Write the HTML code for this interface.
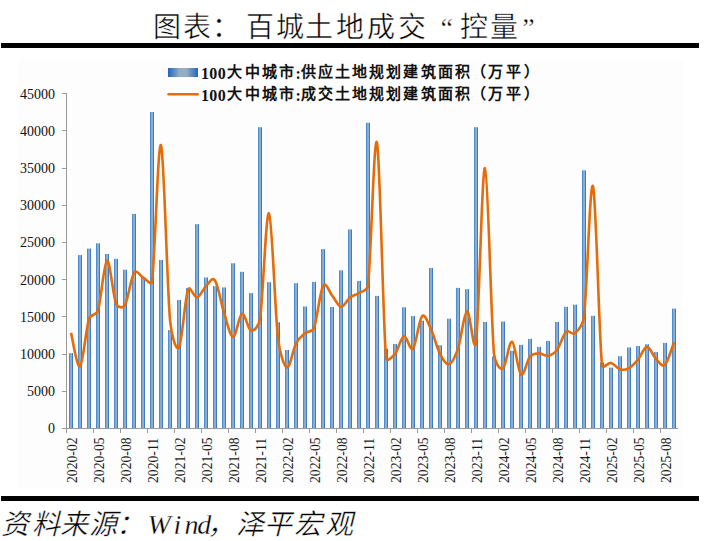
<!DOCTYPE html>
<html lang="zh-CN"><head><meta charset="utf-8">
<style>
html,body{margin:0;padding:0;background:#fff;width:705px;height:541px;overflow:hidden}
svg{display:block}
.yl{font-family:"Liberation Serif",serif;font-size:14px;fill:#111}
.xl{font-family:"Liberation Serif",serif;font-size:13.7px;fill:#1a1a1a}
.lg{font-family:"Liberation Serif",serif;font-size:16px;font-weight:bold;fill:#111}
.title{font-family:"Liberation Serif",serif;font-size:30px;fill:#2a2a2a;font-weight:300}
.src{font-family:"Liberation Serif",serif;font-size:28px;font-style:italic;fill:#1a1a1a}
</style></head><body>
<svg width="705" height="541" viewBox="0 0 705 541">
<defs>
<linearGradient id="bg" x1="0" y1="0" x2="1" y2="0">
<stop offset="0" stop-color="#4a8ed6"/><stop offset="0.25" stop-color="#4a8ed6"/><stop offset="0.25" stop-color="#84a8cc"/><stop offset="0.5" stop-color="#8eaccb"/><stop offset="0.75" stop-color="#95b0c8"/><stop offset="0.75" stop-color="#3b7ac4"/><stop offset="1" stop-color="#3b7ac4"/>
</linearGradient>
<linearGradient id="lgb" x1="0" y1="0" x2="1" y2="0">
<stop offset="0" stop-color="#2264c0"/><stop offset="0.38" stop-color="#93adc3"/><stop offset="0.62" stop-color="#93adc3"/><stop offset="1" stop-color="#2264c0"/>
</linearGradient>
</defs>
<text x="153.3" y="37" style="font-family:'Liberation Serif',serif;font-size:28px;stroke:#fff;stroke-width:0.45px;fill:#000">图</text>
<text x="182.5" y="37" style="font-family:'Liberation Serif',serif;font-size:28px;stroke:#fff;stroke-width:0.45px;fill:#000">表</text>
<text x="212.2" y="37" style="font-family:'Liberation Serif',serif;font-size:28px;stroke:#fff;stroke-width:0.45px;fill:#000">：</text>
<text x="245.8" y="37" style="font-family:'Liberation Serif',serif;font-size:28px;stroke:#fff;stroke-width:0.45px;fill:#000">百</text>
<text x="276.3" y="37" style="font-family:'Liberation Serif',serif;font-size:28px;stroke:#fff;stroke-width:0.45px;fill:#000">城</text>
<text x="305.3" y="37" style="font-family:'Liberation Serif',serif;font-size:28px;stroke:#fff;stroke-width:0.45px;fill:#000">土</text>
<text x="336.2" y="37" style="font-family:'Liberation Serif',serif;font-size:28px;stroke:#fff;stroke-width:0.45px;fill:#000">地</text>
<text x="366.7" y="37" style="font-family:'Liberation Serif',serif;font-size:28px;stroke:#fff;stroke-width:0.45px;fill:#000">成</text>
<text x="397.8" y="37" style="font-family:'Liberation Serif',serif;font-size:28px;stroke:#fff;stroke-width:0.45px;fill:#000">交</text>
<text x="440.4" y="37" style="font-family:'Liberation Serif',serif;font-size:28px;stroke:#fff;stroke-width:0.45px;fill:#000">“</text>
<text x="460.0" y="37" style="font-family:'Liberation Serif',serif;font-size:28px;stroke:#fff;stroke-width:0.45px;fill:#000">控</text>
<text x="489.8" y="37" style="font-family:'Liberation Serif',serif;font-size:28px;stroke:#fff;stroke-width:0.45px;fill:#000">量</text>
<text x="522.3" y="37" style="font-family:'Liberation Serif',serif;font-size:28px;stroke:#fff;stroke-width:0.45px;fill:#000">”</text>
<rect x="1" y="43" width="698" height="5" fill="#000"/>
<rect x="18" y="60" width="665" height="428" fill="#fdfdfd"/>
<rect x="168" y="68" width="30" height="9" fill="url(#lgb)"/>
<text x="200.9" y="78.5" style="font-family:'Liberation Serif',serif;font-size:16px;font-weight:700;fill:#111">1</text>
<text x="209.3" y="78.5" style="font-family:'Liberation Serif',serif;font-size:16px;font-weight:700;fill:#111">0</text>
<text x="217.8" y="78.5" style="font-family:'Liberation Serif',serif;font-size:16px;font-weight:700;fill:#111">0</text>
<text x="227.2" y="77.2" style="font-family:'Liberation Serif',serif;font-size:15px;font-weight:700;fill:#111">大</text>
<text x="245.1" y="77.2" style="font-family:'Liberation Serif',serif;font-size:15px;font-weight:700;fill:#111">中</text>
<text x="262.0" y="77.2" style="font-family:'Liberation Serif',serif;font-size:15px;font-weight:700;fill:#111">城</text>
<text x="279.0" y="77.2" style="font-family:'Liberation Serif',serif;font-size:15px;font-weight:700;fill:#111">市</text>
<text x="295.4" y="78.5" style="font-family:'Liberation Serif',serif;font-size:16px;font-weight:700;fill:#111">:</text>
<text x="300.5" y="77.2" style="font-family:'Liberation Serif',serif;font-size:15px;font-weight:700;fill:#111">供</text>
<text x="318.2" y="77.2" style="font-family:'Liberation Serif',serif;font-size:15px;font-weight:700;fill:#111">应</text>
<text x="334.7" y="77.2" style="font-family:'Liberation Serif',serif;font-size:15px;font-weight:700;fill:#111">土</text>
<text x="352.3" y="77.2" style="font-family:'Liberation Serif',serif;font-size:15px;font-weight:700;fill:#111">地</text>
<text x="369.1" y="77.2" style="font-family:'Liberation Serif',serif;font-size:15px;font-weight:700;fill:#111">规</text>
<text x="386.0" y="77.2" style="font-family:'Liberation Serif',serif;font-size:15px;font-weight:700;fill:#111">划</text>
<text x="403.2" y="77.2" style="font-family:'Liberation Serif',serif;font-size:15px;font-weight:700;fill:#111">建</text>
<text x="420.9" y="77.2" style="font-family:'Liberation Serif',serif;font-size:15px;font-weight:700;fill:#111">筑</text>
<text x="437.7" y="77.2" style="font-family:'Liberation Serif',serif;font-size:15px;font-weight:700;fill:#111">面</text>
<text x="454.5" y="77.2" style="font-family:'Liberation Serif',serif;font-size:15px;font-weight:700;fill:#111">积</text>
<text x="470.9" y="77.2" style="font-family:'Liberation Serif',serif;font-size:15px;font-weight:700;fill:#111">（</text>
<text x="487.8" y="77.2" style="font-family:'Liberation Serif',serif;font-size:15px;font-weight:700;fill:#111">万</text>
<text x="505.9" y="77.2" style="font-family:'Liberation Serif',serif;font-size:15px;font-weight:700;fill:#111">平</text>
<text x="523.7" y="77.2" style="font-family:'Liberation Serif',serif;font-size:15px;font-weight:700;fill:#111">）</text>
<line x1="168.6" y1="94.3" x2="197.6" y2="94.3" stroke="#e46c0a" stroke-width="2.6" stroke-linecap="round"/>
<text x="200.9" y="100.5" style="font-family:'Liberation Serif',serif;font-size:16px;font-weight:700;fill:#111">1</text>
<text x="209.3" y="100.5" style="font-family:'Liberation Serif',serif;font-size:16px;font-weight:700;fill:#111">0</text>
<text x="217.8" y="100.5" style="font-family:'Liberation Serif',serif;font-size:16px;font-weight:700;fill:#111">0</text>
<text x="227.2" y="99.2" style="font-family:'Liberation Serif',serif;font-size:15px;font-weight:700;fill:#111">大</text>
<text x="245.1" y="99.2" style="font-family:'Liberation Serif',serif;font-size:15px;font-weight:700;fill:#111">中</text>
<text x="262.0" y="99.2" style="font-family:'Liberation Serif',serif;font-size:15px;font-weight:700;fill:#111">城</text>
<text x="279.0" y="99.2" style="font-family:'Liberation Serif',serif;font-size:15px;font-weight:700;fill:#111">市</text>
<text x="295.4" y="100.5" style="font-family:'Liberation Serif',serif;font-size:16px;font-weight:700;fill:#111">:</text>
<text x="300.5" y="99.2" style="font-family:'Liberation Serif',serif;font-size:15px;font-weight:700;fill:#111">成</text>
<text x="318.2" y="99.2" style="font-family:'Liberation Serif',serif;font-size:15px;font-weight:700;fill:#111">交</text>
<text x="334.7" y="99.2" style="font-family:'Liberation Serif',serif;font-size:15px;font-weight:700;fill:#111">土</text>
<text x="352.3" y="99.2" style="font-family:'Liberation Serif',serif;font-size:15px;font-weight:700;fill:#111">地</text>
<text x="369.1" y="99.2" style="font-family:'Liberation Serif',serif;font-size:15px;font-weight:700;fill:#111">规</text>
<text x="386.0" y="99.2" style="font-family:'Liberation Serif',serif;font-size:15px;font-weight:700;fill:#111">划</text>
<text x="403.2" y="99.2" style="font-family:'Liberation Serif',serif;font-size:15px;font-weight:700;fill:#111">建</text>
<text x="420.9" y="99.2" style="font-family:'Liberation Serif',serif;font-size:15px;font-weight:700;fill:#111">筑</text>
<text x="437.7" y="99.2" style="font-family:'Liberation Serif',serif;font-size:15px;font-weight:700;fill:#111">面</text>
<text x="454.5" y="99.2" style="font-family:'Liberation Serif',serif;font-size:15px;font-weight:700;fill:#111">积</text>
<text x="470.9" y="99.2" style="font-family:'Liberation Serif',serif;font-size:15px;font-weight:700;fill:#111">（</text>
<text x="487.8" y="99.2" style="font-family:'Liberation Serif',serif;font-size:15px;font-weight:700;fill:#111">万</text>
<text x="505.9" y="99.2" style="font-family:'Liberation Serif',serif;font-size:15px;font-weight:700;fill:#111">平</text>
<text x="523.7" y="99.2" style="font-family:'Liberation Serif',serif;font-size:15px;font-weight:700;fill:#111">）</text>
<rect x="69" y="353.10" width="4.0" height="75.40" fill="url(#bg)"/>
<rect x="78" y="255.10" width="4.0" height="173.40" fill="url(#bg)"/>
<rect x="87" y="248.60" width="4.0" height="179.90" fill="url(#bg)"/>
<rect x="96" y="243.30" width="4.0" height="185.20" fill="url(#bg)"/>
<rect x="105" y="254.00" width="4.0" height="174.50" fill="url(#bg)"/>
<rect x="114" y="258.79" width="4.0" height="169.71" fill="url(#bg)"/>
<rect x="123" y="269.70" width="4.0" height="158.80" fill="url(#bg)"/>
<rect x="132" y="213.90" width="4.0" height="214.60" fill="url(#bg)"/>
<rect x="141" y="277.09" width="4.0" height="151.41" fill="url(#bg)"/>
<rect x="150" y="111.99" width="4.0" height="316.51" fill="url(#bg)"/>
<rect x="159" y="259.95" width="4.0" height="168.55" fill="url(#bg)"/>
<rect x="168" y="330.10" width="4.0" height="98.40" fill="url(#bg)"/>
<rect x="177" y="300.00" width="4.0" height="128.50" fill="url(#bg)"/>
<rect x="186" y="288.11" width="4.0" height="140.39" fill="url(#bg)"/>
<rect x="195" y="224.20" width="4.0" height="204.30" fill="url(#bg)"/>
<rect x="204" y="277.50" width="4.0" height="151.00" fill="url(#bg)"/>
<rect x="213" y="286.10" width="4.0" height="142.40" fill="url(#bg)"/>
<rect x="222" y="287.40" width="4.0" height="141.10" fill="url(#bg)"/>
<rect x="231" y="263.29" width="4.0" height="165.21" fill="url(#bg)"/>
<rect x="240" y="271.80" width="4.0" height="156.70" fill="url(#bg)"/>
<rect x="249" y="293.10" width="4.0" height="135.40" fill="url(#bg)"/>
<rect x="258" y="127.20" width="4.0" height="301.30" fill="url(#bg)"/>
<rect x="267" y="282.19" width="4.0" height="146.31" fill="url(#bg)"/>
<rect x="276" y="322.30" width="4.0" height="106.20" fill="url(#bg)"/>
<rect x="285" y="350.00" width="4.0" height="78.50" fill="url(#bg)"/>
<rect x="294" y="283.20" width="4.0" height="145.30" fill="url(#bg)"/>
<rect x="303" y="306.50" width="4.0" height="122.00" fill="url(#bg)"/>
<rect x="312" y="281.90" width="4.0" height="146.60" fill="url(#bg)"/>
<rect x="321" y="249.10" width="4.0" height="179.40" fill="url(#bg)"/>
<rect x="330" y="307.05" width="4.0" height="121.45" fill="url(#bg)"/>
<rect x="339" y="270.30" width="4.0" height="158.20" fill="url(#bg)"/>
<rect x="348" y="229.40" width="4.0" height="199.10" fill="url(#bg)"/>
<rect x="357" y="280.90" width="4.0" height="147.60" fill="url(#bg)"/>
<rect x="366" y="122.80" width="4.0" height="305.70" fill="url(#bg)"/>
<rect x="375" y="295.90" width="4.0" height="132.60" fill="url(#bg)"/>
<rect x="384" y="348.70" width="4.0" height="79.80" fill="url(#bg)"/>
<rect x="393" y="344.00" width="4.0" height="84.50" fill="url(#bg)"/>
<rect x="402" y="307.30" width="4.0" height="121.20" fill="url(#bg)"/>
<rect x="411" y="316.10" width="4.0" height="112.40" fill="url(#bg)"/>
<rect x="420" y="320.70" width="4.0" height="107.80" fill="url(#bg)"/>
<rect x="429" y="268.00" width="4.0" height="160.50" fill="url(#bg)"/>
<rect x="438" y="345.30" width="4.0" height="83.20" fill="url(#bg)"/>
<rect x="447" y="318.70" width="4.0" height="109.80" fill="url(#bg)"/>
<rect x="456" y="287.91" width="4.0" height="140.59" fill="url(#bg)"/>
<rect x="465" y="289.20" width="4.0" height="139.30" fill="url(#bg)"/>
<rect x="474" y="127.20" width="4.0" height="301.30" fill="url(#bg)"/>
<rect x="483" y="322.00" width="4.0" height="106.50" fill="url(#bg)"/>
<rect x="492" y="356.50" width="4.0" height="72.00" fill="url(#bg)"/>
<rect x="501" y="321.50" width="4.0" height="107.00" fill="url(#bg)"/>
<rect x="510" y="350.80" width="4.0" height="77.70" fill="url(#bg)"/>
<rect x="519" y="344.80" width="4.0" height="83.70" fill="url(#bg)"/>
<rect x="528" y="338.90" width="4.0" height="89.60" fill="url(#bg)"/>
<rect x="537" y="346.90" width="4.0" height="81.60" fill="url(#bg)"/>
<rect x="546" y="340.90" width="4.0" height="87.60" fill="url(#bg)"/>
<rect x="555" y="322.00" width="4.0" height="106.50" fill="url(#bg)"/>
<rect x="564" y="306.80" width="4.0" height="121.70" fill="url(#bg)"/>
<rect x="573" y="304.70" width="4.0" height="123.80" fill="url(#bg)"/>
<rect x="582" y="170.30" width="4.0" height="258.20" fill="url(#bg)"/>
<rect x="591" y="315.80" width="4.0" height="112.70" fill="url(#bg)"/>
<rect x="600" y="362.40" width="4.0" height="66.10" fill="url(#bg)"/>
<rect x="609" y="367.60" width="4.0" height="60.90" fill="url(#bg)"/>
<rect x="618" y="356.20" width="4.0" height="72.30" fill="url(#bg)"/>
<rect x="627" y="347.40" width="4.0" height="81.10" fill="url(#bg)"/>
<rect x="636" y="346.10" width="4.0" height="82.40" fill="url(#bg)"/>
<rect x="645" y="344.30" width="4.0" height="84.20" fill="url(#bg)"/>
<rect x="654" y="352.10" width="4.0" height="76.40" fill="url(#bg)"/>
<rect x="663" y="343.00" width="4.0" height="85.50" fill="url(#bg)"/>
<rect x="672" y="308.60" width="4.0" height="119.90" fill="url(#bg)"/>
<line x1="66.5" y1="93.5" x2="66.5" y2="429" stroke="#9a9a9a" stroke-width="1"/>
<line x1="62" y1="428.5" x2="678" y2="428.5" stroke="#9a9a9a" stroke-width="1"/>
<line x1="62" y1="428.5" x2="67" y2="428.5" stroke="#9a9a9a" stroke-width="1"/>
<text x="55" y="433.2" text-anchor="end" class="yl">0</text>
<line x1="62" y1="391.5" x2="67" y2="391.5" stroke="#9a9a9a" stroke-width="1"/>
<text x="55" y="396.0" text-anchor="end" class="yl">5000</text>
<line x1="62" y1="354.5" x2="67" y2="354.5" stroke="#9a9a9a" stroke-width="1"/>
<text x="55" y="358.8" text-anchor="end" class="yl">10000</text>
<line x1="62" y1="316.5" x2="67" y2="316.5" stroke="#9a9a9a" stroke-width="1"/>
<text x="55" y="321.7" text-anchor="end" class="yl">15000</text>
<line x1="62" y1="279.5" x2="67" y2="279.5" stroke="#9a9a9a" stroke-width="1"/>
<text x="55" y="284.5" text-anchor="end" class="yl">20000</text>
<line x1="62" y1="242.5" x2="67" y2="242.5" stroke="#9a9a9a" stroke-width="1"/>
<text x="55" y="247.3" text-anchor="end" class="yl">25000</text>
<line x1="62" y1="205.5" x2="67" y2="205.5" stroke="#9a9a9a" stroke-width="1"/>
<text x="55" y="210.1" text-anchor="end" class="yl">30000</text>
<line x1="62" y1="168.5" x2="67" y2="168.5" stroke="#9a9a9a" stroke-width="1"/>
<text x="55" y="173.0" text-anchor="end" class="yl">35000</text>
<line x1="62" y1="130.5" x2="67" y2="130.5" stroke="#9a9a9a" stroke-width="1"/>
<text x="55" y="135.8" text-anchor="end" class="yl">40000</text>
<line x1="62" y1="93.5" x2="67" y2="93.5" stroke="#9a9a9a" stroke-width="1"/>
<text x="55" y="98.6" text-anchor="end" class="yl">45000</text>
<line x1="66.5" y1="428" x2="66.5" y2="433" stroke="#9a9a9a" stroke-width="1"/>
<text transform="translate(76.5,483) rotate(-90)" class="xl">2020-02</text>
<line x1="93.5" y1="428" x2="93.5" y2="433" stroke="#9a9a9a" stroke-width="1"/>
<text transform="translate(103.5,483) rotate(-90)" class="xl">2020-05</text>
<line x1="120.5" y1="428" x2="120.5" y2="433" stroke="#9a9a9a" stroke-width="1"/>
<text transform="translate(130.5,483) rotate(-90)" class="xl">2020-08</text>
<line x1="147.5" y1="428" x2="147.5" y2="433" stroke="#9a9a9a" stroke-width="1"/>
<text transform="translate(157.5,483) rotate(-90)" class="xl">2020-11</text>
<line x1="174.5" y1="428" x2="174.5" y2="433" stroke="#9a9a9a" stroke-width="1"/>
<text transform="translate(184.5,483) rotate(-90)" class="xl">2021-02</text>
<line x1="201.5" y1="428" x2="201.5" y2="433" stroke="#9a9a9a" stroke-width="1"/>
<text transform="translate(211.5,483) rotate(-90)" class="xl">2021-05</text>
<line x1="228.5" y1="428" x2="228.5" y2="433" stroke="#9a9a9a" stroke-width="1"/>
<text transform="translate(238.5,483) rotate(-90)" class="xl">2021-08</text>
<line x1="255.5" y1="428" x2="255.5" y2="433" stroke="#9a9a9a" stroke-width="1"/>
<text transform="translate(265.5,483) rotate(-90)" class="xl">2021-11</text>
<line x1="282.5" y1="428" x2="282.5" y2="433" stroke="#9a9a9a" stroke-width="1"/>
<text transform="translate(292.5,483) rotate(-90)" class="xl">2022-02</text>
<line x1="309.5" y1="428" x2="309.5" y2="433" stroke="#9a9a9a" stroke-width="1"/>
<text transform="translate(319.5,483) rotate(-90)" class="xl">2022-05</text>
<line x1="336.5" y1="428" x2="336.5" y2="433" stroke="#9a9a9a" stroke-width="1"/>
<text transform="translate(346.5,483) rotate(-90)" class="xl">2022-08</text>
<line x1="363.5" y1="428" x2="363.5" y2="433" stroke="#9a9a9a" stroke-width="1"/>
<text transform="translate(373.5,483) rotate(-90)" class="xl">2022-11</text>
<line x1="390.5" y1="428" x2="390.5" y2="433" stroke="#9a9a9a" stroke-width="1"/>
<text transform="translate(400.5,483) rotate(-90)" class="xl">2023-02</text>
<line x1="417.5" y1="428" x2="417.5" y2="433" stroke="#9a9a9a" stroke-width="1"/>
<text transform="translate(427.5,483) rotate(-90)" class="xl">2023-05</text>
<line x1="444.5" y1="428" x2="444.5" y2="433" stroke="#9a9a9a" stroke-width="1"/>
<text transform="translate(454.5,483) rotate(-90)" class="xl">2023-08</text>
<line x1="471.5" y1="428" x2="471.5" y2="433" stroke="#9a9a9a" stroke-width="1"/>
<text transform="translate(481.5,483) rotate(-90)" class="xl">2023-11</text>
<line x1="498.5" y1="428" x2="498.5" y2="433" stroke="#9a9a9a" stroke-width="1"/>
<text transform="translate(508.5,483) rotate(-90)" class="xl">2024-02</text>
<line x1="525.5" y1="428" x2="525.5" y2="433" stroke="#9a9a9a" stroke-width="1"/>
<text transform="translate(535.5,483) rotate(-90)" class="xl">2024-05</text>
<line x1="552.5" y1="428" x2="552.5" y2="433" stroke="#9a9a9a" stroke-width="1"/>
<text transform="translate(562.5,483) rotate(-90)" class="xl">2024-08</text>
<line x1="579.5" y1="428" x2="579.5" y2="433" stroke="#9a9a9a" stroke-width="1"/>
<text transform="translate(589.5,483) rotate(-90)" class="xl">2024-11</text>
<line x1="606.5" y1="428" x2="606.5" y2="433" stroke="#9a9a9a" stroke-width="1"/>
<text transform="translate(616.5,483) rotate(-90)" class="xl">2025-02</text>
<line x1="633.5" y1="428" x2="633.5" y2="433" stroke="#9a9a9a" stroke-width="1"/>
<text transform="translate(643.5,483) rotate(-90)" class="xl">2025-05</text>
<line x1="660.5" y1="428" x2="660.5" y2="433" stroke="#9a9a9a" stroke-width="1"/>
<text transform="translate(670.5,483) rotate(-90)" class="xl">2025-08</text>
<path d="M71.00,332.85 C72.50,338.43 77.00,368.61 80.00,366.30 C83.00,363.99 86.00,328.32 89.00,319.00 C90.91,313.08 96.16,316.35 98.00,310.40 C101.00,300.68 104.00,261.86 107.00,260.70 C110.00,259.53 113.00,296.02 116.00,303.40 C117.72,307.63 122.68,308.90 125.00,304.97 C128.00,299.89 131.00,277.48 134.00,272.90 C136.77,268.67 140.00,276.05 143.00,277.50 C146.00,278.96 151.33,286.53 152.00,281.62 C155.00,259.59 158.00,138.92 161.00,145.29 C164.00,151.66 167.00,286.16 170.00,319.84 C171.28,334.26 176.00,352.38 179.00,347.35 C182.00,342.33 185.00,298.01 188.00,289.70 C190.02,284.10 194.00,298.10 197.00,297.50 C200.00,296.90 203.00,288.91 206.00,286.10 C209.00,283.28 212.03,276.25 215.00,280.60 C218.00,285.00 221.00,303.10 224.00,312.50 C227.00,321.90 230.00,336.79 233.00,337.00 C236.00,337.22 239.00,314.87 242.00,313.80 C245.00,312.74 248.00,329.75 251.00,330.60 C254.00,331.45 258.88,326.19 260.00,318.90 C263.00,299.36 266.00,210.21 269.00,213.40 C272.00,216.59 275.00,312.39 278.00,338.06 C279.78,353.31 284.00,366.52 287.00,367.43 C290.00,368.34 293.00,349.21 296.00,343.50 C299.00,337.80 302.00,335.79 305.00,333.20 C308.00,330.62 312.14,332.85 314.00,328.00 C317.00,320.15 320.00,291.55 323.00,286.10 C326.00,280.65 329.00,291.85 332.00,295.30 C335.00,298.75 338.00,306.43 341.00,306.80 C344.00,307.16 347.00,299.80 350.00,297.50 C353.00,295.20 356.00,295.03 359.00,293.00 C362.00,290.97 367.30,291.18 368.00,285.30 C371.00,260.25 374.00,130.61 377.00,142.70 C380.00,154.78 383.00,322.60 386.00,357.80 C386.42,362.69 392.00,357.48 395.00,353.90 C398.00,350.31 401.00,337.16 404.00,336.30 C407.00,335.43 410.00,352.03 413.00,348.70 C416.00,345.37 419.00,319.53 422.00,316.30 C425.00,313.07 428.00,323.03 431.00,329.30 C434.00,335.56 437.00,348.08 440.00,353.90 C443.00,359.71 446.00,365.07 449.00,364.20 C452.00,363.34 455.12,357.19 458.00,348.70 C461.00,339.86 464.00,312.28 467.00,311.20 C470.00,310.12 473.99,358.21 476.00,342.20 C479.00,318.35 482.00,166.15 485.00,168.10 C488.00,170.05 491.00,320.49 494.00,353.90 C494.77,362.46 500.00,370.56 503.00,368.54 C506.00,366.52 509.00,340.78 512.00,341.78 C515.00,342.77 518.00,372.04 521.00,374.49 C524.00,376.95 527.00,360.01 530.00,356.50 C533.00,352.98 536.00,353.53 539.00,353.40 C542.00,353.26 545.00,356.27 548.00,355.70 C551.00,355.14 554.00,353.97 557.00,350.00 C560.00,346.03 563.00,334.70 566.00,331.90 C569.00,329.10 572.00,335.80 575.00,333.20 C578.00,330.60 582.84,325.80 584.00,316.30 C587.00,291.78 590.00,177.90 593.00,186.10 C596.00,194.30 599.00,336.04 602.00,365.50 C602.47,370.16 608.00,362.25 611.00,362.90 C614.00,363.55 617.00,368.53 620.00,369.40 C623.00,370.27 626.00,369.73 629.00,368.10 C632.00,366.46 635.00,363.13 638.00,359.60 C641.00,356.07 644.00,347.00 647.00,346.90 C650.00,346.80 653.00,356.04 656.00,359.00 C659.00,361.97 662.00,367.50 665.00,364.70 C668.00,361.90 672.50,345.95 674.00,342.20" fill="none" stroke="#e46c0a" stroke-width="2.6" stroke-linejoin="round" stroke-linecap="butt"/>
<rect x="1" y="496" width="698" height="5" fill="#000"/>
<text x="0.5" y="534" style="font-family:'Liberation Serif',serif;font-size:28px;font-style:italic;stroke:#fff;stroke-width:0.45px;fill:#000">资</text>
<text x="31.7" y="534" style="font-family:'Liberation Serif',serif;font-size:28px;font-style:italic;stroke:#fff;stroke-width:0.45px;fill:#000">料</text>
<text x="60.0" y="534" style="font-family:'Liberation Serif',serif;font-size:28px;font-style:italic;stroke:#fff;stroke-width:0.45px;fill:#000">来</text>
<text x="89.0" y="534" style="font-family:'Liberation Serif',serif;font-size:28px;font-style:italic;stroke:#fff;stroke-width:0.45px;fill:#000">源</text>
<text x="115.8" y="534" style="font-family:'Liberation Serif',serif;font-size:28px;font-style:italic;stroke:#fff;stroke-width:0.45px;fill:#000">：</text>
<text x="147.5" y="534" style="font-family:'Liberation Serif',serif;font-size:28px;font-style:italic;stroke:#fff;stroke-width:0.3px;fill:#000">W</text>
<text x="173.5" y="534" style="font-family:'Liberation Serif',serif;font-size:28px;font-style:italic;stroke:#fff;stroke-width:0.3px;fill:#000">i</text>
<text x="184.4" y="534" style="font-family:'Liberation Serif',serif;font-size:28px;font-style:italic;stroke:#fff;stroke-width:0.3px;fill:#000">n</text>
<text x="197.2" y="534" style="font-family:'Liberation Serif',serif;font-size:28px;font-style:italic;stroke:#fff;stroke-width:0.3px;fill:#000">d</text>
<text x="206.8" y="534" style="font-family:'Liberation Serif',serif;font-size:28px;font-style:italic;stroke:#fff;stroke-width:0.45px;fill:#000">，</text>
<text x="236.0" y="534" style="font-family:'Liberation Serif',serif;font-size:28px;font-style:italic;stroke:#fff;stroke-width:0.45px;fill:#000">泽</text>
<text x="263.5" y="534" style="font-family:'Liberation Serif',serif;font-size:28px;font-style:italic;stroke:#fff;stroke-width:0.45px;fill:#000">平</text>
<text x="293.5" y="534" style="font-family:'Liberation Serif',serif;font-size:28px;font-style:italic;stroke:#fff;stroke-width:0.45px;fill:#000">宏</text>
<text x="325.0" y="534" style="font-family:'Liberation Serif',serif;font-size:28px;font-style:italic;stroke:#fff;stroke-width:0.45px;fill:#000">观</text>
</svg>
</body></html>
